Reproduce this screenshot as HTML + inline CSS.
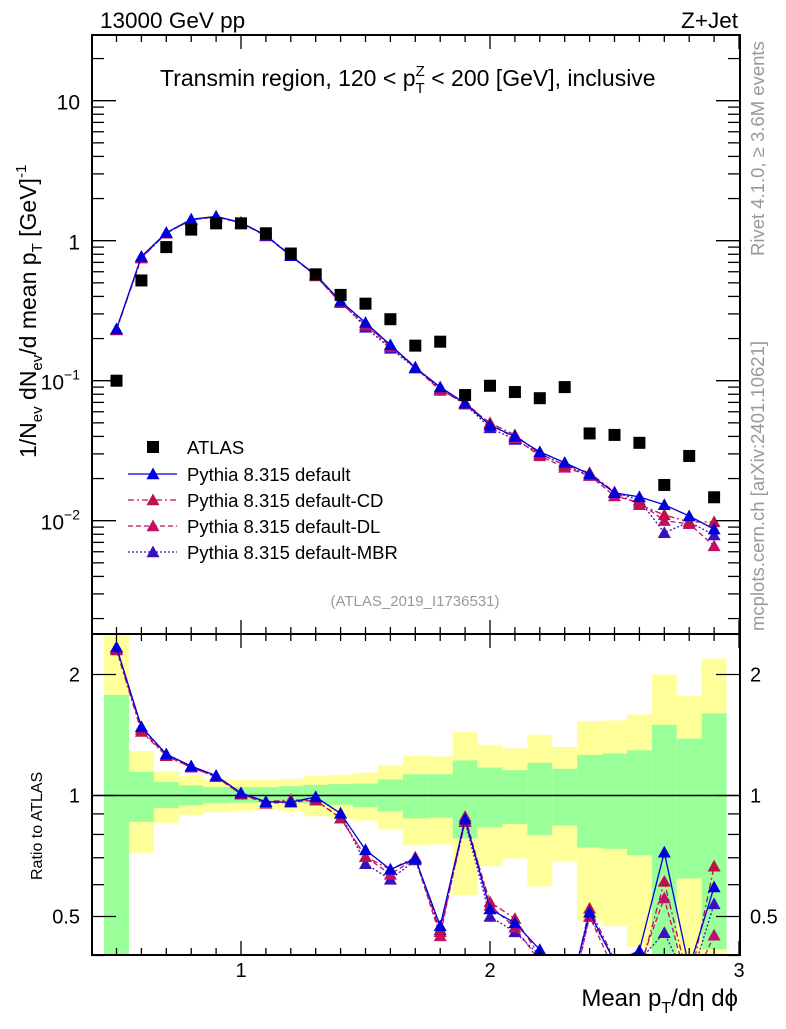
<!DOCTYPE html>
<html><head><meta charset="utf-8"><style>
body{margin:0;background:#fff}
svg{font-family:"Liberation Sans",sans-serif}
</style></head><body>
<svg id="chart" width="786" height="1024" viewBox="0 0 786 1024" xmlns="http://www.w3.org/2000/svg">
<rect width="786" height="1024" fill="#fff"/>
<g id="bands"></g>
<g id="ratioMarks"></g>
<g id="mainMarks"></g>
<g id="axes"></g>
<text x="100" y="28" font-size="22.5">13000 GeV pp</text>
<text x="738" y="28" font-size="22.5" text-anchor="end">Z+Jet</text>
<text x="160" y="86" font-size="23">Transmin region, 120 &lt; p<tspan font-size="15" dy="7">T</tspan><tspan font-size="15" dx="-9" dy="-17">Z</tspan><tspan dy="10"> &lt; 200 [GeV], inclusive</tspan></text>
<text transform="translate(36,458) rotate(-90)" font-size="23">1/N<tspan font-size="15" dy="6">ev</tspan><tspan dy="-6"> dN</tspan><tspan font-size="15" dy="6">ev</tspan><tspan dy="-6">/d mean p</tspan><tspan font-size="15" dy="6">T</tspan><tspan dy="-6"> [GeV]</tspan><tspan font-size="15" dy="-10">-1</tspan></text>
<text transform="translate(42,880) rotate(-90)" font-size="16">Ratio to ATLAS</text>
<text x="738" y="1006" font-size="24" text-anchor="end">Mean p<tspan font-size="16" dy="7">T</tspan><tspan dy="-7">/dη dϕ</tspan></text>
<text transform="translate(764,256) rotate(-90)" font-size="18.5" fill="#999">Rivet 4.1.0, ≥ 3.6M events</text>
<text transform="translate(764,631) rotate(-90)" font-size="18.5" fill="#999">mcplots.cern.ch [arXiv:2401.10621]</text>
<text x="415" y="606" font-size="15" fill="#999" text-anchor="middle">(ATLAS_2019_I1736531)</text>
<g id="legend"></g>
</svg>
<script>
const xCenters=[0.5,0.6,0.7,0.8,0.9,1.0,1.1,1.2,1.3,1.4,1.5,1.6,1.7,1.8,1.9,2.0,2.1,2.2,2.3,2.4,2.5,2.6,2.7,2.8,2.9];
const atlasVals=[0.1,0.52,0.9,1.2,1.33,1.33,1.13,0.81,0.575,0.41,0.355,0.275,0.178,0.19,0.079,0.092,0.083,0.075,0.09,0.042,0.041,0.036,0.018,0.029,0.0147];
const defaultVals=[0.234,0.77,1.14,1.42,1.49,1.35,1.09,0.78,0.57,0.37,0.26,0.18,0.124,0.09,0.069,0.048,0.040,0.031,0.026,0.0215,0.0158,0.0148,0.0130,0.0108,0.0087];
const cdVals=[0.23,0.75,1.13,1.41,1.48,1.34,1.09,0.79,0.56,0.36,0.25,0.18,0.125,0.087,0.068,0.050,0.041,0.030,0.025,0.022,0.016,0.013,0.011,0.0098,0.0098];
const dlVals=[0.232,0.76,1.13,1.41,1.48,1.34,1.08,0.78,0.56,0.36,0.25,0.175,0.124,0.085,0.070,0.049,0.039,0.029,0.024,0.021,0.015,0.0135,0.010,0.0095,0.0066];
const mbrVals=[0.233,0.77,1.14,1.42,1.49,1.34,1.09,0.78,0.57,0.37,0.24,0.17,0.123,0.088,0.068,0.046,0.038,0.030,0.025,0.021,0.016,0.014,0.0082,0.0098,0.0079];
const yellowHi=[2.6,1.29,1.15,1.12,1.096,1.096,1.092,1.10,1.12,1.126,1.14,1.188,1.257,1.25,1.443,1.337,1.309,1.416,1.32,1.53,1.537,1.59,2.0,1.77,2.19];
const greenHi=[1.78,1.145,1.08,1.06,1.05,1.05,1.049,1.055,1.063,1.067,1.071,1.096,1.13,1.13,1.222,1.174,1.156,1.206,1.165,1.262,1.272,1.296,1.50,1.386,1.60];
const greenLo=[0.35,0.86,0.93,0.946,0.957,0.96,0.96,0.958,0.955,0.948,0.935,0.914,0.877,0.88,0.782,0.834,0.85,0.797,0.842,0.742,0.737,0.71,0.35,0.622,0.414];
const yellowLo=[0.35,0.72,0.855,0.895,0.909,0.914,0.923,0.914,0.888,0.877,0.866,0.823,0.752,0.755,0.565,0.667,0.697,0.594,0.685,0.489,0.473,0.42,0.35,0.35,0.35];
const mainTicks=[10,1,0.1,0.01];
const mainTickLabels=["10","1","10","10"];
const mainTickExp=["","","−1","−2"];
const ratioTicks=[0.5,1,2];
const xTicks=[1,2,3];

const NS="http://www.w3.org/2000/svg";
const L=92,R=740,MT=35,MB=634,RT=634,RB=955;
const X=v=>241+(v-1)*249;
const Y=v=>240.7-Math.log10(v)*140;
const YR=v=>795.5-Math.log2(v)*121;
function mk(tag,attrs,parent){const e=document.createElementNS(NS,tag);for(const k in attrs)e.setAttribute(k,attrs[k]);parent.appendChild(e);return e;}
const bands=document.getElementById('bands'),rm=document.getElementById('ratioMarks'),mm=document.getElementById('mainMarks'),ax=document.getElementById('axes'),lg=document.getElementById('legend');
const clampR=v=>Math.max(RT,Math.min(RB,v));
xCenters.forEach((x,i)=>{
  const x0=Math.max(L,X(x-0.05)),x1=X(x+0.05);
  let r=mk('rect',{x:x0,y:clampR(YR(yellowHi[i])),width:x1-x0,height:clampR(YR(yellowLo[i]))-clampR(YR(yellowHi[i])),fill:'#ffff99'},bands);
  
  
  let g=mk('rect',{x:x0,y:clampR(YR(greenHi[i])),width:x1-x0,height:clampR(YR(greenLo[i]))-clampR(YR(greenHi[i])),fill:'#99ff99'},bands);
  
  
});
let one=mk('line',{x1:L,x2:R,y1:YR(1),y2:YR(1),stroke:'#000','stroke-width':1.5},bands);


const series=[
 {name:'default',vals:defaultVals,color:'#0000dd',dash:''},
 {name:'default-CD',vals:cdVals,color:'#c0104a',dash:'6,3,2,3'},
 {name:'default-DL',vals:dlVals,color:'#c0106a',dash:'5,3'},
 {name:'default-MBR',vals:mbrVals,color:'#3a10c0',dash:'2,2'}
];
function tri(x,y,c,parent,nm){const s=6.5;const p=mk('polygon',{points:`${x},${y-s} ${x-s},${y+s*0.8} ${x+s},${y+s*0.8}`,fill:c},parent);
 
 }
const clip1=mk('clipPath',{id:'cm'},document.getElementById('chart'));mk('rect',{x:L,y:MT,width:R-L,height:MB-MT},clip1);
const clip2=mk('clipPath',{id:'cr'},document.getElementById('chart'));mk('rect',{x:L,y:RT,width:R-L,height:RB-RT},clip2);
mm.setAttribute('clip-path','url(#cm)');rm.setAttribute('clip-path','url(#cr)');
series.slice().reverse().forEach(s=>{
  let pl=mk('polyline',{points:xCenters.map((x,i)=>X(x)+','+Y(s.vals[i])).join(' '),fill:'none',stroke:s.color,'stroke-width':1.3,'stroke-dasharray':s.dash},mm);
  
  
  xCenters.forEach((x,i)=>tri(X(x),Y(s.vals[i]),s.color,mm,'point-'+s.name));
  const rv=s.vals.map((v,i)=>v/atlasVals[i]);
  let rl=mk('polyline',{points:xCenters.map((x,i)=>X(x)+','+YR(rv[i])).join(' '),fill:'none',stroke:s.color,'stroke-width':1.3,'stroke-dasharray':s.dash},rm);
  
  
  xCenters.forEach((x,i)=>tri(X(x),YR(rv[i]),s.color,rm,'ratio-point-'+s.name));
});
xCenters.forEach((x,i)=>{
  let r=mk('rect',{x:X(x)-6,y:Y(atlasVals[i])-6,width:12,height:12,fill:'#000'},mm);
  
  
});
[[MT,MB],[RT,RB]].forEach(([t,b])=>{mk('rect',{x:L,y:t,width:R-L,height:b-t,fill:'none',stroke:'#000','stroke-width':2},ax);});
for(let k=5;k<=30;k++){const v=k/10,x=X(v),len=(k%10==0)?14:7;
  [[MT,1],[MB,-1],[RT,1],[RB,-1]].forEach(([y,d])=>mk('line',{x1:x,x2:x,y1:y,y2:y+d*len,stroke:'#000','stroke-width':1.3},ax));}
xTicks.forEach(v=>{let t=mk('text',{x:X(v),y:977,'font-size':20,'text-anchor':'middle'},ax);t.textContent=v;
 
 });
for(let e=-3;e<=1;e++)for(let m=1;m<=9;m++){const v=m*Math.pow(10,e),y=Y(v);if(y<MT||y>MB)continue;const len=m==1?24:12;
  mk('line',{x1:L,x2:L+len,y1:y,y2:y,stroke:'#000','stroke-width':1.3},ax);mk('line',{x1:R,x2:R-len,y1:y,y2:y,stroke:'#000','stroke-width':1.3},ax);}
mainTicks.forEach((v,i)=>{let t=mk('text',{x:80,y:Y(v)+9,'font-size':21,'text-anchor':'end'},ax);t.textContent=mainTickLabels[i];
 
 
 if(mainTickExp[i]){let s=mk('tspan',{'font-size':14,dy:-10},t);s.textContent=mainTickExp[i];}});
[0.4,0.5,0.6,0.7,0.8,0.9,1,2].forEach(v=>{const y=YR(v);const len=(v==0.5||v==1||v==2)?24:12;
  mk('line',{x1:L,x2:L+len,y1:y,y2:y,stroke:'#000','stroke-width':1.3},ax);mk('line',{x1:R,x2:R-len,y1:y,y2:y,stroke:'#000','stroke-width':1.3},ax);});
ratioTicks.forEach(v=>{[[80,'end'],[750,'start']].forEach(([x,a])=>{let t=mk('text',{x:x,y:YR(v)+7,'font-size':20,'text-anchor':a},ax);t.textContent=v;
 
 });});
const rows=[447,474,500,526,552];
let lr=mk('rect',{x:147,y:rows[0]-6,width:12,height:12,fill:'#000'},lg);


let lt=mk('text',{x:187,y:rows[0]+7,'font-size':18.5},lg);lt.textContent='ATLAS';


series.forEach((s,i)=>{const y=rows[i+1];
  mk('line',{x1:128,x2:177,y1:y,y2:y,stroke:s.color,'stroke-width':1.3,'stroke-dasharray':s.dash},lg);
  tri(153,y,s.color,lg,'legend-marker');
  let t=mk('text',{x:187,y:y+7,'font-size':18.5},lg);t.textContent='Pythia 8.315 '+s.name;
  
  });
</script>
</body></html>
